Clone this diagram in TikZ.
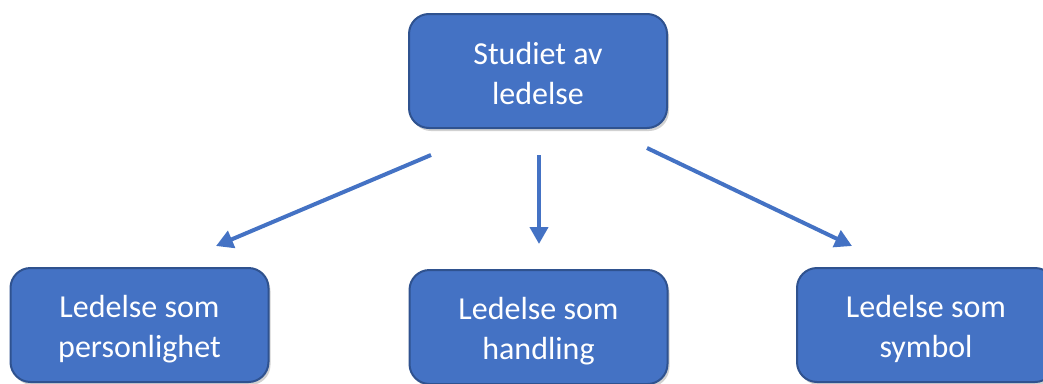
\documentclass[tikz,border=0pt]{standalone}
\usepackage{fontspec}
\setmainfont{Carlito}
\usetikzlibrary{arrows.meta}
\definecolor{boxfill}{HTML}{4472C4}
\definecolor{boxline}{HTML}{2F528F}
\definecolor{arrcol}{HTML}{4472C4}
\tikzset{
  boxnode/.style={draw=boxline, line width=2pt, fill=boxfill, rounded corners=20pt,
    minimum width=258pt, minimum height=114pt, inner sep=0pt},
  boxtext/.style={text=white, align=center, inner sep=0pt, yshift=-4pt,
    font=\fontsize{32pt}{40pt}\selectfont},
  shadowed/.style={preaction={fill=black, opacity=0.18, transform canvas={xshift=2pt,yshift=-3pt}}},
  arr/.style={draw=arrcol, line width=4pt, -{Triangle[length=17pt,width=18pt]}}
}
\begin{document}
\begin{tikzpicture}[x=1pt,y=-1pt]
\useasboundingbox (0,0) rectangle (1043,383);
\fill[white] (0,0) rectangle (1043,383);
\node[boxnode, shadowed, label={[boxtext, yshift=1pt]center:{Studiet av\\ledelse}}] (top) at (538,71) {};
\node[boxnode, shadowed, label={[boxtext]center:{Ledelse som\\personlighet}}] (left) at (139.5,325) {};
\node[boxnode, shadowed, label={[boxtext]center:{Ledelse som\\handling}}] (mid) at (538.5,327) {};
\node[boxnode, shadowed, label={[boxtext]center:{Ledelse som\\symbol}}] (right) at (926,325) {};
\draw[arr] ([xshift=-107pt,yshift=-26pt]top.south) -- ([xshift=76.5pt,yshift=21pt]left.north);
\draw[arr] ([xshift=1pt,yshift=-26pt]top.south) -- ([xshift=0.5pt,yshift=25pt]mid.north);
\draw[arr] ([xshift=109pt,yshift=-19pt]top.south) -- ([xshift=-74pt,yshift=21pt]right.north);
\end{tikzpicture}
\end{document}
